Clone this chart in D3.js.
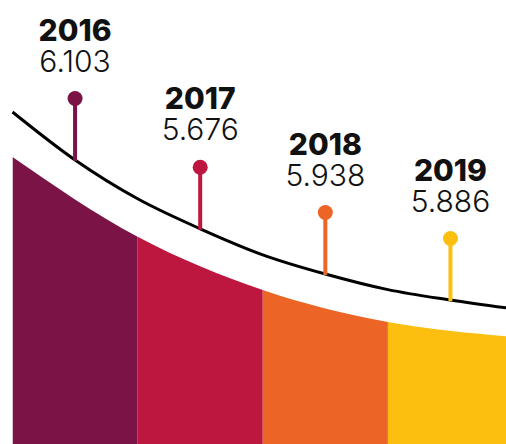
<!DOCTYPE html>
<html>
<head>
<meta charset="utf-8">
<script src="https://cdn.jsdelivr.net/npm/d3@7"></script>
<style>
  html, body { margin: 0; padding: 0; background: #fff; }
  svg { display: block; }
</style>
</head>
<body>
<svg id="chart"></svg>
<script>
// Data
const years = ['2016', '2017', '2018', '2019'];
const values = [6.103, 5.676, 5.938, 5.886];
const colors = ['#7b1346', '#be173f', '#ec6526', '#fcbf10'];

// decorative curves, heights at column edges / half steps
const topHeights = [71.75, 51.8, 38.5, 30.5, 26.8];          // at u = 0,1,2,3,4
const lineHeights = [83, 71, 61.3, 53.8, 47.3, 42.5, 38.6, 36, 33.8]; // at u = 0,0.5,...,4

const width = 506;
const height = 444;

const svg = d3.select('#chart')
  .attr('width', width)
  .attr('height', height);

// Scales
const x = d3.scaleLinear().domain([0, 4]).range([12.5, 513]);
const y = d3.scaleLinear().domain([0, 100]).range([444, 44]);

// Colored columns with curved top
const area = d3.area()
  .x((d, i) => x(i))
  .y0(y(0))
  .y1(d => y(d))
  .curve(d3.curveMonotoneX);

const defs = svg.append('defs');
years.forEach((yr, i) => {
  defs.append('clipPath')
    .attr('id', 'col' + i)
    .append('rect')
    .attr('x', x(i))
    .attr('y', 0)
    .attr('width', x(i + 1) - x(i))
    .attr('height', height);
});

svg.selectAll('path.col')
  .data(years)
  .enter().append('path')
  .attr('class', 'col')
  .attr('clip-path', (d, i) => `url(#col${i})`)
  .attr('fill', (d, i) => colors[i])
  .attr('d', area(topHeights));

// Black curve
const line = d3.line()
  .x((d, i) => x(i / 2))
  .y(d => y(d))
  .curve(d3.curveMonotoneX);

svg.append('path')
  .datum(lineHeights)
  .attr('fill', 'none')
  .attr('stroke', '#000')
  .attr('stroke-width', 3)
  .attr('d', line);

// Lollipops
const dotOffset = 61.5;
const g = svg.selectAll('g.item')
  .data(years)
  .enter().append('g')
  .attr('class', 'item')
  .attr('transform', (d, i) => `translate(${x(i + 0.5)},0)`);

g.append('line')
  .attr('x1', 0).attr('x2', 0)
  .attr('y1', (d, i) => y(lineHeights[2 * i + 1]) - dotOffset)
  .attr('y2', (d, i) => y(lineHeights[2 * i + 1]) + 1)
  .attr('stroke', (d, i) => colors[i])
  .attr('stroke-width', 4);

g.append('circle')
  .attr('cy', (d, i) => y(lineHeights[2 * i + 1]) - dotOffset)
  .attr('r', 7.5)
  .attr('fill', (d, i) => colors[i]);

g.append('text')
  .attr('text-anchor', 'middle')
  .attr('y', (d, i) => y(lineHeights[2 * i + 1]) - dotOffset - 58)
  .style('font-family', 'Inter, "Noto Sans", sans-serif')
  .style('font-weight', 800)
  .style('font-size', '30px')
  .attr('fill', '#111')
  .text(d => d);

g.append('text')
  .attr('text-anchor', 'middle')
  .attr('y', (d, i) => y(lineHeights[2 * i + 1]) - dotOffset - 27)
  .style('font-family', 'Inter, "Noto Sans", sans-serif')
  .style('font-weight', 300)
  .style('font-size', '30px')
  .attr('fill', '#111')
  .text((d, i) => d3.format('.3f')(values[i]));
</script>
</body>
</html>
